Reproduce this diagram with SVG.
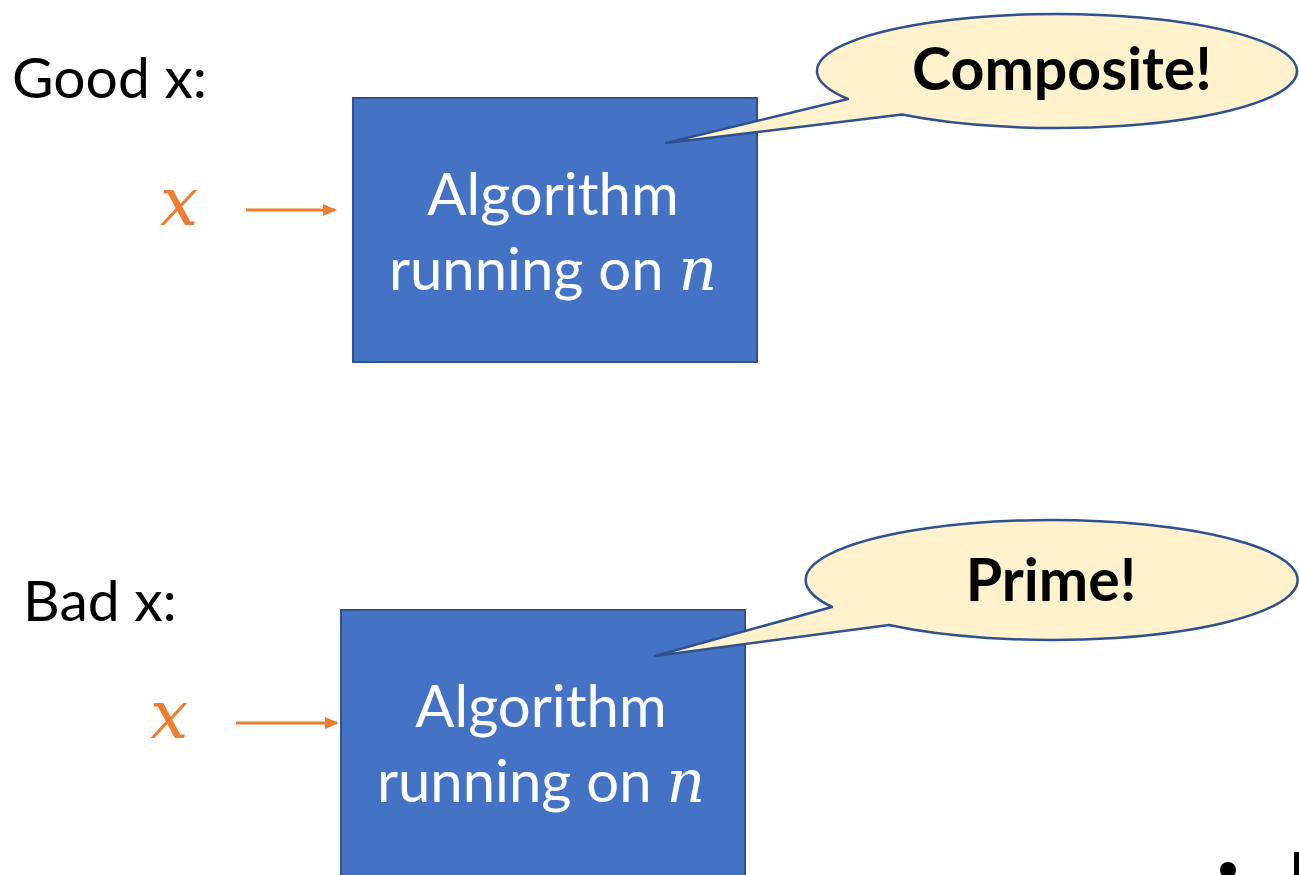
<svg xmlns="http://www.w3.org/2000/svg" width="1299" height="875" viewBox="0 0 1299 875">
<defs>
<style>
.lbl{font-family:Lato,"Open Sans",sans-serif;font-size:57px;fill:#000}
.box{fill:#4472C4;stroke:#2F528F;stroke-width:2}
.btxt{font-family:Lato,"Open Sans",sans-serif;font-size:58px;fill:#fff;text-anchor:middle}
.mvar{font-family:"DejaVu Serif",serif;font-style:italic;font-size:60px}
.call{fill:#FFF2CC;stroke:#2F528F;stroke-width:2.5;stroke-linejoin:round}
.ctxt{font-family:Lato,"Open Sans",sans-serif;font-weight:bold;font-size:59px;fill:#000;text-anchor:middle}
.xin{font-family:"DejaVu Serif",serif;font-style:italic;font-size:68px;fill:#ED7D31}
.arr{stroke:#ED7D31;stroke-width:3;fill:none;marker-end:url(#ah)}
</style>
<marker id="ah" markerWidth="14" markerHeight="12" refX="12" refY="6" orient="auto" markerUnits="userSpaceOnUse">
<path d="M0,0 L14,6 L0,12 Z" fill="#ED7D31"/>
</marker>
</defs>
<rect width="1299" height="875" fill="#fff"/>
<g id="good-label"><text class="lbl" x="12" y="98">Good x:</text></g>
<g id="bad-label"><text class="lbl" x="23" y="621">Bad x:</text></g>
<g id="x-top"><text class="xin" x="160" y="225">x</text></g>
<g id="x-bottom"><text class="xin" x="150" y="738">x</text></g>
<g id="algo-top">
<rect class="box" x="353" y="98" width="404" height="264"/>
<text class="btxt" x="553" y="215">Algorithm</text>
<text class="btxt" x="553" y="290">running on <tspan class="mvar">n</tspan></text>
</g>
<g id="algo-bottom">
<rect class="box" x="341" y="610" width="404" height="275"/>
<text class="btxt" x="541" y="727">Algorithm</text>
<text class="btxt" x="541" y="802">running on <tspan class="mvar">n</tspan></text>
</g>
<g id="callout-top">
<path class="call" d="M848 99 L666 143 L902 114.5 A240 57 0 1 0 848 99 Z"/>
<text class="ctxt" x="1062" y="90">Composite!</text>
</g>
<g id="callout-bottom">
<path class="call" d="M832 607 L655 656 L889 625 A246 60 0 1 0 832 607 Z"/>
<text class="ctxt" x="1051" y="601">Prime!</text>
</g>
<g id="connectors">
<line class="arr" x1="246" y1="210" x2="335" y2="210"/>
<line class="arr" x1="236" y1="723" x2="337" y2="723"/>
</g>
<g id="bullet">
<circle cx="1228" cy="870" r="8" fill="#000"/>
<rect x="1294" y="852" width="5" height="23" fill="#000"/>
</g>
</svg>
